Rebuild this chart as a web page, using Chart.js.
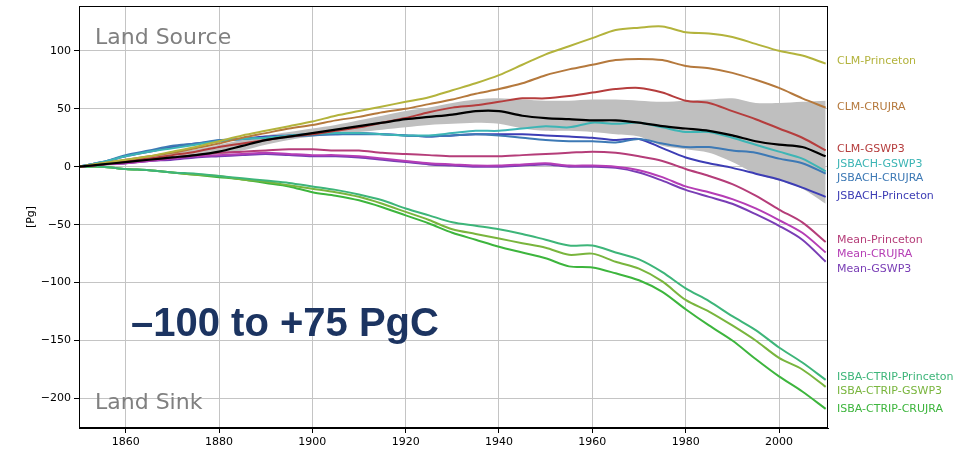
<!DOCTYPE html>
<html>
<head>
<meta charset="utf-8">
<script src="https://cdn.jsdelivr.net/npm/chart.js@4.4.1/dist/chart.umd.min.js"></script>
<style>
  html, body { margin: 0; padding: 0; background: #ffffff; }
  #wrap { width: 979px; height: 450px; }
</style>
</head>
<body>
<div id="wrap"><canvas id="c" width="979" height="450"></canvas></div>
<script>
// Cumulative land carbon change [Pg], 1850-2010, every 5 years
const years = [1850,1855,1860,1865,1870,1875,1880,1885,1890,1895,1900,1905,1910,1915,1920,1925,1930,1935,1940,1945,1950,1955,1960,1965,1970,1975,1980,1985,1990,1995,2000,2005,2010];

const clmPrinceton   = [0,3,6,9,13,17,22,27,31,35,39,44,48,52,56,60,66,72,79,88,97,104,111,118,120,121,116,115,112,106,100,96,89];
const clmCrujra      = [0,3,6,9,12,16,20,25,29,33,36,40,43,47,50,54,58,63,67,72,79,84,88,92,93,92,87,85,81,75,68,59,51];
const clmGswp3       = [0,2,5,7,10,13,17,20,23,26,28,31,34,38,42,47,51,53,56,59,59,61,64,67,68,64,57,55,48,41,33,25,14];
const jsbachGswp3    = [0,4,9,13,16,19,22,24,25,27,28,29,29,28,27,27,29,31,31,33,35,34,38,37,38,34,30,30,25,19,13,7,-4];
const jsbachCrujra   = [0,4,10,14,18,20,23,24,25,26,27,28,28,28,27,26,27,28,27,25,23,22,22,21,24,20,17,17,14,12,7,3,-6];
const jsbachPrinceton= [0,4,9,13,17,20,22,24,26,27,28,28,29,28,27,26,27,28,28,28,27,26,25,23,24,16,8,3,-1,-6,-11,-18,-26];
const meanPrinceton  = [0,2,4,6,8,10,12,13,14,15,15,14,14,12,11,10,9,9,9,10,11,12,13,12,9,5,-2,-8,-15,-25,-37,-48,-65];
const meanCrujra     = [0,2,3,5,7,9,10,11,12,11,10,10,9,7,5,3,2,1,1,2,3,1,1,0,-3,-9,-17,-22,-28,-36,-46,-57,-74];
const meanGswp3      = [0,2,3,5,6,8,9,10,11,10,9,9,8,6,4,2,1,0,0,1,2,0,0,-1,-5,-12,-20,-26,-32,-41,-51,-63,-82];
const isbaPrinceton  = [0,0,-2,-3,-5,-6,-8,-10,-12,-14,-17,-20,-24,-29,-36,-42,-48,-51,-54,-58,-63,-68,-68,-74,-80,-91,-105,-116,-129,-141,-156,-169,-184];
const isbaGswp3      = [0,0,-2,-3,-5,-7,-8,-11,-13,-16,-19,-22,-26,-32,-39,-46,-54,-58,-62,-66,-70,-76,-75,-82,-88,-99,-115,-125,-137,-150,-165,-175,-190];
const isbaCrujra     = [0,0,-2,-3,-5,-7,-9,-11,-14,-17,-22,-25,-29,-35,-42,-49,-57,-63,-69,-74,-79,-86,-87,-92,-98,-108,-123,-137,-150,-166,-181,-194,-209];

// Ensemble mean and its spread
const ensembleMean   = [0,2,4,6,8,10,13,18,23,26,29,32,35,38,41,43,45,48,48,44,42,41,40,40,38,35,33,31,27,22,19,17,9];
const spreadUpper    = [0,3,6,9,12,15,19,23,27,30,33,36,40,44,48,51,55,58,59,58,57,57,58,58,57,56,57,58,59,55,55,56,57];
const spreadLower    = [0,1,2,4,6,8,10,14,19,23,26,28,30,32,34,36,37,38,37,33,31,31,30,28,26,18,15,12,4,-6,-12,-19,-32];

// Series names, colours and where their end labels sit (Pg)
const seriesNames  = ['CLM-Princeton','CLM-CRUJRA','CLM-GSWP3','JSBACH-GSWP3','JSBACH-CRUJRA','JSBACH-Princeton','Mean-Princeton','Mean-CRUJRA','Mean-GSWP3','ISBA-CTRIP-Princeton','ISBA-CTRIP-GSWP3','ISBA-CTRIP-CRUJRA'];
const seriesValues = [clmPrinceton, clmCrujra, clmGswp3, jsbachGswp3, jsbachCrujra, jsbachPrinceton, meanPrinceton, meanCrujra, meanGswp3, isbaPrinceton, isbaGswp3, isbaCrujra];
const seriesColors = ['#b3b33c','#b5793d','#b53d3d','#3db5b5','#3d79b5','#3d3db5','#b53d79','#b53db5','#793db5','#3db579','#79b53d','#3db53d'];
const labelAt      = [91, 51.5, 15, 2.3, -9.8, -25, -63.5, -75.3, -88, -181.2, -193.6, -209.5];

const xTicks = [1860,1880,1900,1920,1940,1960,1980,2000];
const yTicks = [-200,-150,-100,-50,0,50,100];

const pts = arr => arr.map((v, i) => ({ x: years[i], y: v }));

const datasets = [];
datasets.push({ label: 'Mean', data: pts(ensembleMean), borderColor: '#000000', borderWidth: 2.2, pointRadius: 0, tension: 0.3, fill: false });
seriesNames.forEach((name, i) => {
  datasets.push({ label: name, data: pts(seriesValues[i]), borderColor: seriesColors[i], borderWidth: 2, pointRadius: 0, tension: 0.3, fill: false });
});
datasets.push({ label: 'spreadUpper', data: pts(spreadUpper), borderWidth: 0, borderColor: 'rgba(0,0,0,0)', pointRadius: 0, tension: 0.3, fill: '+1', backgroundColor: '#bfbfbf' });
datasets.push({ label: 'spreadLower', data: pts(spreadLower), borderWidth: 0, borderColor: 'rgba(0,0,0,0)', pointRadius: 0, tension: 0.3, fill: false });

const FONT = '"DejaVu Sans", sans-serif';

const decorations = {
  id: 'decorations',
  afterDatasetsDraw(chart) {
    const { ctx, chartArea: a, scales } = chart;
    ctx.save();
    // frame
    ctx.strokeStyle = '#000000';
    ctx.lineWidth = 1;
    ctx.strokeRect(a.left + 0.5, a.top + 0.5, a.right - a.left - 1, a.bottom - a.top - 1);

    // corner notes
    ctx.fillStyle = '#808080';
    ctx.font = '22px ' + FONT;
    ctx.textAlign = 'left';
    ctx.textBaseline = 'alphabetic';
    ctx.fillText('Land Source', a.left + 16, 44);
    ctx.fillText('Land Sink', a.left + 16, 409);

    // range statement
    ctx.fillStyle = '#1c3461';
    ctx.font = 'bold 40px "Liberation Sans", Arial, sans-serif';
    ctx.fillText('\u2013100 to +75 PgC', 131, 336);

    // axis unit
    ctx.fillStyle = '#000000';
    ctx.font = '11px ' + FONT;
    ctx.translate(31, (a.top + a.bottom) / 2);
    ctx.rotate(-Math.PI / 2);
    ctx.textAlign = 'center';
    ctx.textBaseline = 'middle';
    ctx.fillText('[Pg]', 0, 0);
    ctx.restore();

    // end labels
    ctx.save();
    ctx.font = '11px ' + FONT;
    ctx.textAlign = 'left';
    ctx.textBaseline = 'middle';
    seriesNames.forEach((name, i) => {
      ctx.fillStyle = seriesColors[i];
      ctx.fillText(name, a.right + 9, scales.y.getPixelForValue(labelAt[i]));
    });
    ctx.restore();
  }
};

new Chart(document.getElementById('c'), {
  type: 'line',
  data: { datasets },
  options: {
    responsive: false,
    animation: false,
    devicePixelRatio: 1,
    layout: { padding: { left: 0, right: 151, top: 6, bottom: 0 } },
    plugins: {
      legend: { display: false },
      tooltip: { enabled: false },
      filler: { drawTime: 'beforeDatasetsDraw' }
    },
    scales: {
      x: {
        type: 'linear', min: 1850, max: 2010.5,
        afterBuildTicks: s => { s.ticks = xTicks.map(v => ({ value: v })); },
        afterFit: s => { s.height = 22; },
        grid: { color: '#c4c4c4', lineWidth: 1, tickColor: '#000000', tickLength: 5 },
        border: { display: true, color: '#000000' },
        ticks: { color: '#000000', font: { family: FONT, size: 11 }, padding: 3, maxRotation: 0, callback: v => String(v) }
      },
      y: {
        type: 'linear', min: -225.5, max: 138.7,
        afterBuildTicks: s => { s.ticks = yTicks.map(v => ({ value: v })); },
        afterFit: s => { s.width = 79; s.paddingTop = 0; s.paddingBottom = 0; },
        grid: { color: '#c4c4c4', lineWidth: 1, tickColor: '#000000', tickLength: 5 },
        border: { display: true, color: '#000000' },
        ticks: { color: '#000000', font: { family: FONT, size: 11 }, padding: 3, callback: v => (v < 0 ? '\u2212' + Math.abs(v) : String(v)) }
      }
    }
  },
  plugins: [decorations]
});
</script>
</body>
</html>
